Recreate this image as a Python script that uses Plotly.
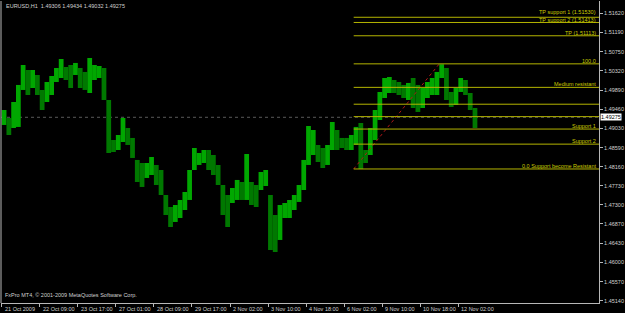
import plotly.graph_objects as go

# ---------------- data ----------------
symbol_title = "EURUSD,H1  1.49306 1.49434 1.49032 1.49275"
copyright_text = "FxPro MT4, © 2001-2009 MetaQuotes Software Corp."

time_labels = ["21 Oct 2009", "22 Oct 09:00", "23 Oct 17:00", "27 Oct 01:00", "28 Oct 09:00",
               "29 Oct 17:00", "2 Nov 02:00", "3 Nov 10:00", "4 Nov 18:00", "6 Nov 02:00",
               "9 Nov 10:00", "10 Nov 18:00", "12 Nov 02:00"]
bars_per_label = 32      # H1 bars between time labels
bars_per_sample = 4      # each drawn bar groups 4 hourly bars

highs = [1.49440, 1.49260, 1.49620, 1.50004, 1.50454, 1.50342, 1.50342, 1.50229, 1.49891, 1.50071,
         1.50206, 1.50387, 1.50590, 1.50409, 1.50454, 1.50500, 1.50387, 1.50297, 1.50612, 1.50454,
         1.50432, 1.50387, 1.49665, 1.48763, 1.48876, 1.49260, 1.49034, 1.48809, 1.48313, 1.48245,
         1.48245, 1.48380, 1.48200, 1.48087, 1.47523, 1.47253, 1.47298, 1.47411, 1.47591, 1.48087,
         1.48583, 1.48470, 1.48538, 1.48538, 1.48425, 1.48200, 1.47749, 1.47523, 1.47681, 1.47862,
         1.47816, 1.48448, 1.47816, 1.47749, 1.48042, 1.48087, 1.47523, 1.47072, 1.47298, 1.47343,
         1.47411, 1.47523, 1.47749, 1.48313, 1.49079, 1.48989, 1.48651, 1.48583, 1.48651, 1.49169,
         1.48989, 1.48809, 1.48809, 1.48876, 1.49057, 1.49147, 1.48538, 1.49034, 1.49440, 1.49846,
         1.50161, 1.50184, 1.50116, 1.50071, 1.50004, 1.50049, 1.50161, 1.50004, 1.49936, 1.50071,
         1.50161, 1.50297, 1.50470, 1.50387, 1.49846, 1.49936, 1.50161, 1.50116, 1.49823, 1.49485]
lows = [1.49102, 1.48876, 1.49034, 1.49057, 1.49891, 1.49778, 1.49936, 1.49778, 1.49440, 1.49620,
        1.49778, 1.50071, 1.50161, 1.50116, 1.49936, 1.50229, 1.49936, 1.49891, 1.49823, 1.50116,
        1.50161, 1.49665, 1.48470, 1.48493, 1.48538, 1.48718, 1.48651, 1.48358, 1.47816, 1.47704,
        1.47907, 1.47974, 1.47749, 1.47523, 1.47072, 1.46802, 1.46915, 1.47005, 1.47185, 1.47411,
        1.48087, 1.48200, 1.48245, 1.48087, 1.47974, 1.47749, 1.47072, 1.46802, 1.47343, 1.47411,
        1.47411, 1.47411, 1.47298, 1.47253, 1.47636, 1.47726, 1.46283, 1.46238, 1.46509, 1.47005,
        1.47005, 1.47185, 1.47366, 1.47636, 1.48200, 1.48425, 1.48267, 1.48132, 1.48200, 1.48538,
        1.48538, 1.48583, 1.48538, 1.48538, 1.48651, 1.48110, 1.48245, 1.48425, 1.48763, 1.49214,
        1.49710, 1.49823, 1.49823, 1.49778, 1.49710, 1.49665, 1.49485, 1.49395, 1.49485, 1.49710,
        1.49778, 1.49778, 1.50161, 1.49665, 1.49508, 1.49553, 1.49846, 1.49778, 1.49440, 1.49034]

price_ticks = [1.45140, 1.45570, 1.46000, 1.46430, 1.46870, 1.47300, 1.47730, 1.48160,
               1.48590, 1.49030, 1.49460, 1.49890, 1.50320, 1.50750, 1.51190, 1.51620]

level_prices = [1.51530, 1.51413, 1.51113, 1.5048, 1.4995, 1.4957, 1.4929, 1.4901, 1.4867, 1.4811]
level_labels = ["TP support 1 (1.51530)", "TP support 2 (1.51413)", "TP (1.51113)", "100.0",
                "Medium resistant", "", "", "Support 1", "Support 2", "0.0 Support become Resistant"]

fib_start_bar = 296
fib_end_bar = 368
fib_low = 1.4811
fib_high = 1.5048
current_price = 1.49275

x_range = [-0.6, 502.3]
y_range = [1.45088, 1.51897]

# ---------------- styles ----------------
FONT = "Liberation Sans, Arial, sans-serif"
FS = 5.5
AXIS_COL = "#b8b8b8"
TXT_COL = "#d0d0d0"
LEVEL_LINE = "#b4b400"
LEVEL_TXT = "#cccc00"
LABEL_YSHIFT = {"TP support 1 (1.51530)": 0, "TP support 2 (1.51413)": -3}

centers = [bars_per_sample * k + bars_per_sample / 2 for k in range(len(highs))]
mids = [(h + l) / 2 for h, l in zip(highs, lows)]
colors = ["#00a800" if k == 0 or mids[k] >= mids[k - 1] else "#007800" for k in range(len(mids))]

fig = go.Figure()
fig.add_trace(go.Bar(
    x=centers, y=[h - l for h, l in zip(highs, lows)], base=lows,
    width=bars_per_sample, marker=dict(color=colors, line=dict(width=0)),
    hoverinfo="skip", showlegend=False))

# fibo trend line (red dotted)
fig.add_trace(go.Scatter(x=[fib_start_bar, fib_end_bar], y=[fib_low, fib_high], mode="lines",
                         line=dict(color="#b01818", width=1, dash="dot"),
                         hoverinfo="skip", showlegend=False))

shapes = []
annotations = []
# current price line
shapes.append(dict(type="line", xref="paper", yref="y", x0=0, x1=1, y0=current_price, y1=current_price,
                   line=dict(color="#5a5a5a", width=1, dash="dot"), layer="below"))
for p, lab in zip(level_prices, level_labels):
    shapes.append(dict(type="line", xref="x", yref="y", x0=fib_start_bar, x1=x_range[1], y0=p, y1=p,
                       line=dict(color=LEVEL_LINE, width=1)))
    if lab:
        annotations.append(dict(xref="paper", yref="y", x=1, y=p, xanchor="right", yanchor="bottom",
                                xshift=-1, yshift=LABEL_YSHIFT.get(lab, -2), text=lab, showarrow=False,
                                font=dict(family=FONT, size=FS, color=LEVEL_TXT)))
# left border
shapes.append(dict(type="line", xref="paper", yref="paper", x0=0, x1=0, y0=0, y1=1,
                   line=dict(color=AXIS_COL, width=1)))

# time labels
for i, lab in enumerate(time_labels):
    annotations.append(dict(xref="x", yref="paper", x=i * bars_per_label, y=0, xanchor="left",
                            yanchor="top", xshift=1, yshift=-1, text=lab, showarrow=False,
                            font=dict(family=FONT, size=FS, color=TXT_COL)))
# title and copyright
annotations.append(dict(xref="paper", yref="paper", x=0, y=1, xanchor="left", yanchor="top",
                        xshift=3, yshift=0, text=symbol_title, showarrow=False,
                        font=dict(family=FONT, size=FS, color=TXT_COL)))
annotations.append(dict(xref="paper", yref="paper", x=0, y=0, xanchor="left", yanchor="bottom",
                        xshift=2, yshift=3, text=copyright_text, showarrow=False,
                        font=dict(family=FONT, size=FS, color=TXT_COL)))
# current price box
annotations.append(dict(xref="paper", yref="y", x=1, y=current_price, xanchor="left", yanchor="middle",
                        xshift=1, text=f"{current_price:.5f}", showarrow=False, bgcolor="#ffffff",
                        borderpad=0, font=dict(family=FONT, size=FS, color="#000000")))

fig.update_layout(
    width=625, height=313,
    margin=dict(l=1, r=23, t=1, b=10),
    paper_bgcolor="#000000", plot_bgcolor="#000000",
    shapes=shapes, annotations=annotations, showlegend=False,
    xaxis=dict(range=x_range, showgrid=False, zeroline=False, showline=True, linecolor=AXIS_COL,
               linewidth=1, ticks="outside", ticklen=3, tickcolor=AXIS_COL,
               tickvals=[i * bars_per_label for i in range(len(time_labels))],
               showticklabels=False, fixedrange=True),
    yaxis=dict(range=y_range, side="right", showgrid=False, zeroline=False, showline=True,
               linecolor=AXIS_COL, linewidth=1, ticks="outside", ticklen=3, tickcolor=AXIS_COL,
               tickvals=price_ticks, ticktext=[f"{v:.5f}" for v in price_ticks],
               tickfont=dict(family=FONT, size=FS, color=TXT_COL), fixedrange=True),
)

fig.write_html("out.html")
